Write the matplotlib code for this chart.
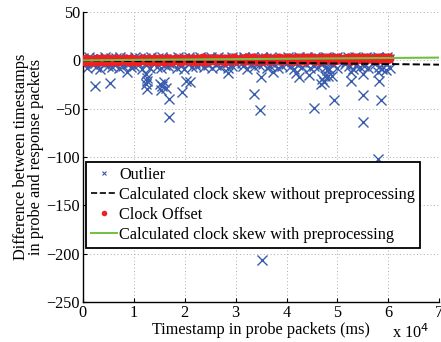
import matplotlib
matplotlib.use('Agg')
import matplotlib.pyplot as plt
from matplotlib.lines import Line2D

plt.rcParams['font.family'] = ['Liberation Serif', 'DejaVu Serif']

# clock offset samples (ms, ms)
offset_x = [0, 350, 700, 1100, 1500, 1850, 2300, 2700, 3100, 3500,
            3900, 4300, 4800, 5200, 5600, 6000, 6500, 6900, 7300, 7700,
            8200, 8600, 9000, 9500, 9900, 10300, 10800, 11200, 11600, 12100,
            12500, 12900, 13400, 13800, 14200, 14700, 15100, 15500, 16000, 16400,
            16900, 17300, 17700, 18200, 18600, 19100, 19500, 19900, 20400, 20800,
            21300, 21700, 22100, 22600, 23000, 23500, 23900, 24300, 24800, 25200,
            25700, 26100, 26500, 27000, 27400, 27900, 28300, 28700, 29200, 29600,
            30000, 31200, 31600, 32000, 32500, 32900, 33400, 33800, 34200, 34700,
            35100, 35600, 36000, 36400, 36900, 37300, 37700, 38500, 38900, 39300,
            39700, 40200, 40600, 41100, 41500, 41900, 42400, 42800, 43300, 43700,
            44100, 44600, 45000, 45500, 45900, 46300, 46800, 47200, 47700, 48100,
            48500, 49000, 49400, 49900, 50200, 51300, 51700, 52100, 52600, 53000,
            53500, 53900, 54300, 54800, 55200, 55700, 56000, 57200, 57600, 58000,
            58500, 58900, 59400, 59800, 60200]
offset_y = [0.5, -0.8, 1.2, 0.1, -1.1, 0.7, -0.3, 1.4, -0.6, 0.2,
            0.9, -1.2, 0.4, 1.1, -0.5, 0.0, 1.3, -0.9, 0.6, -0.2,
            1.0, 0.3, -1.0, 1.5, -0.4, 0.8, -0.7, 0.2, 1.2, -0.1,
            0.6, 1.4, -0.8, 0.3, 1.0, -0.6, 1.6, 0.1, -0.3, 0.9,
            1.3, -0.5, 0.7, 1.8, 0.0, -0.9, 1.1, 0.4, 1.5, -0.2,
            0.8, 1.7, -0.4, 1.2, 0.3, 1.9, -0.6, 1.0, 0.5, 1.4,
            -0.1, 1.6, 0.9, 0.2, 1.8, -0.3, 1.1, 1.5, 0.4, 2.0,
            0.7, 1.3, -0.2, 1.9, 0.8, 1.2, 2.1, 0.1, 1.6, 0.6,
            1.8, 0.3, 2.2, 1.0, -0.1, 1.5, 0.9, 2.0, 0.4, 1.7,
            1.1, 2.3, 0.6, 1.4, 0.2, 2.1, 1.2, 0.8, 2.4, 0.5,
            1.9, 1.3, 2.5, 0.7, 1.6, 0.4, 2.2, 1.5, 0.9, 2.6,
            1.2, 2.0, 0.6, 1.8, 2.7, 1.0, 1.5, 2.3, 0.8, 1.9,
            2.5, 1.3, 2.1, 0.9, 2.8, 1.6, 2.2, 1.1, 2.6, 1.7,
            2.4, 1.2, 2.9, 1.8, 2.1]

# raw samples around the offsets (same timestamps)
raw_y = [2.1, -2.5, 0.4, 3.0, -1.8, 1.5, -2.9, 2.6, -0.7, 1.0,
         -2.2, 3.2, 0.8, -1.4, 2.4, -2.7, 1.9, -0.3, 3.1, -1.9,
         0.6, 2.8, -2.4, 1.3, -1.0, 3.3, -2.8, 2.0, -0.5, 2.7,
         -1.6, 1.1, 3.0, -2.6, 0.3, 2.5, -2.0, 3.4, -0.9, 1.7,
         -2.3, 2.9, 0.0, -1.5, 3.2, -2.9, 1.4, 2.2, -1.1, 3.0,
         -0.4, 2.6, -2.5, 1.8, 3.3, -1.7, 0.9, -2.8, 2.3, 3.1,
         -1.2, 1.6, 3.4, -2.1, 0.5, 2.8, -2.7, 1.2, 3.5, -0.8,
         2.0, -2.4, 3.2, 0.7, -1.6, 2.5, 3.4, -2.9, 1.5, -0.6,
         3.0, -1.9, 2.2, 0.4, 3.5, -2.6, 1.8, -1.3, 2.9, 0.2,
         -2.2, 3.3, 1.0, -0.7, 2.6, -2.8, 3.4, 0.6, -1.5, 2.4,
         3.1, -2.0, 1.3, 3.5, -0.9, 2.1, -2.7, 0.8, 3.2, -1.4,
         2.7, -2.5, 1.6, 3.4, -0.2, 2.2, -1.8, 3.0, 0.9, -2.6,
         3.3, 1.1, -1.2, 2.8, -2.3, 3.5, 0.5, -1.7, 2.5, 3.1,
         -0.5, 2.3, -2.1, 3.2, 1.4]

# lower band of delayed samples
low_x = [200, 900, 1700, 2500, 3300, 4100, 4900, 5700, 6400, 7100,
         7900, 8700, 9400, 10100, 10900, 11700, 12400, 13100, 13900, 14600,
         15300, 16100, 16800, 17600, 18400, 19200, 19900, 20700, 21500, 22300,
         23100, 23800, 24600, 25400, 26200, 26900, 27700, 28500, 29300, 30100,
         31400, 32200, 33000, 33700, 34500, 35300, 36100, 36800, 37600, 38400,
         39100, 39900, 40700, 41500, 42300, 43000, 43800, 44600, 45400, 46100,
         46900, 47700, 48400, 49200, 50000, 51400, 52200, 53000, 53700, 54500,
         55300, 56100, 57300, 58100, 58800, 59600, 60300]
low_y = [-5.2, -7.8, -4.1, -6.5, -8.9, -3.8, -6.0, -7.4, -4.6, -8.2,
         -5.7, -3.9, -7.1, -6.3, -4.4, -8.6, -5.0, -7.7, -3.6, -6.8,
         -8.0, -4.8, -6.2, -3.7, -7.5, -5.4, -8.8, -4.2, -6.9, -5.9,
         -3.5, -7.3, -5.1, -8.4, -4.5, -6.6, -3.9, -7.9, -5.6, -4.0,
         -6.4, -8.7, -4.3, -7.0, -5.3, -3.8, -8.1, -6.1, -4.7, -7.6,
         -5.5, -3.6, -7.2, -8.5, -4.9, -6.7, -3.7, -8.3, -5.8, -7.4,
         -4.1, -6.9, -8.8, -5.2, -7.7, -3.9, -6.4, -9.0, -4.6, -7.1,
         -5.6, -8.2, -4.3, -6.8, -9.1, -3.8, -7.5]

# isolated outliers
far_x = [2350, 5400, 8570, 12480, 12600, 12500, 12400, 12550, 15200, 15600,
         16000, 15400, 16300, 16860, 16860, 19550, 20300, 20980, 28500, 34900,
         33700, 34700, 37300, 41900, 42500, 44500, 45400, 47000, 47500, 48200,
         48900, 47300, 46800, 48000, 49400, 52700, 52700, 55000, 55000, 55100,
         58100, 57900, 58600, 58000, 59500, 35200]
far_y = [-26.6, -23.5, -12, -14, -18, -21, -25, -30, -24, -27,
         -22, -31, -29, -40, -59, -33, -21, -22.5, -13, -17,
         -35, -51, -12, -13, -17, -15.5, -49, -19, -16, -16,
         -16, -22, -25, -10, -41, -21, -12, -14.5, -36, -64,
         -21, -12, -41, -102, -10, -207]

# fitted skew lines (endpoints)
fit_x = [0, 70000]
skew_raw = [-0.2, -4.5]
skew_pre = [0.0, 2.8]

blue = '#3a5cad'
red = '#ee2024'
green = '#72bf44'
fs = 11.7

fig = plt.figure(figsize=(4.41, 3.42), dpi=100)
ax = fig.add_axes([0.188, 0.117, 0.808, 0.848])

all_x = offset_x + low_x + far_x
all_y = raw_y + low_y + far_y
ax.plot(all_x, all_y, 'x', color=blue, ms=6.5, mew=1.0, zorder=2)
ax.plot(offset_x, offset_y, 'o', color=red, ms=7.3, mew=0, zorder=3)
ax.plot(fit_x, skew_raw, '--', color='black', lw=1.4, zorder=4)
ax.plot(fit_x, skew_pre, '-', color=green, lw=1.5, zorder=5)

ax.set_xlim(0, 70000)
ax.set_ylim(-250, 50)
ax.set_xticks([0, 10000, 20000, 30000, 40000, 50000, 60000, 70000])
ax.set_xticklabels(['0', '1', '2', '3', '4', '5', '6', '7'])
ax.set_yticks([-250, -200, -150, -100, -50, 0, 50])
ax.tick_params(direction='in', labelsize=fs, length=3, width=0.8, pad=2)
ax.grid(True, linestyle=(0, (1, 2.5)), color='#aaaaaa', linewidth=0.7)
ax.spines['top'].set_visible(False)
ax.spines['right'].set_visible(False)
ax.spines['left'].set_linewidth(1.0)
ax.spines['bottom'].set_linewidth(1.0)

ax.set_xlabel('Timestamp in probe packets (ms)', fontsize=fs, labelpad=1)
ax.set_ylabel('Difference between timestamps\nin probe and response packets',
              fontsize=fs, labelpad=2, linespacing=0.9)
fig.text(0.888, 0.012, r'x 10$^{4}$', fontsize=fs)

handles = [
    Line2D([], [], ls='none', marker='x', color=blue, ms=3, mew=0.8),
    Line2D([], [], ls='--', color='black', lw=1.2),
    Line2D([], [], ls='none', marker='o', color=red, ms=4, mew=0),
    Line2D([], [], ls='-', color=green, lw=1.4),
]
labels = ['Outlier', 'Calculated clock skew without preprocessing',
          'Clock Offset', 'Calculated clock skew with preprocessing']
leg = ax.legend(handles, labels, loc='upper left', bbox_to_anchor=(0.008, 0.482),
                fontsize=fs, frameon=True, fancybox=False, framealpha=1,
                edgecolor='black', handlelength=1.6, handletextpad=0.15,
                labelspacing=0.24, borderpad=0.3, borderaxespad=0)
leg.get_frame().set_linewidth(1.3)

fig.savefig('out.png', dpi=100)
